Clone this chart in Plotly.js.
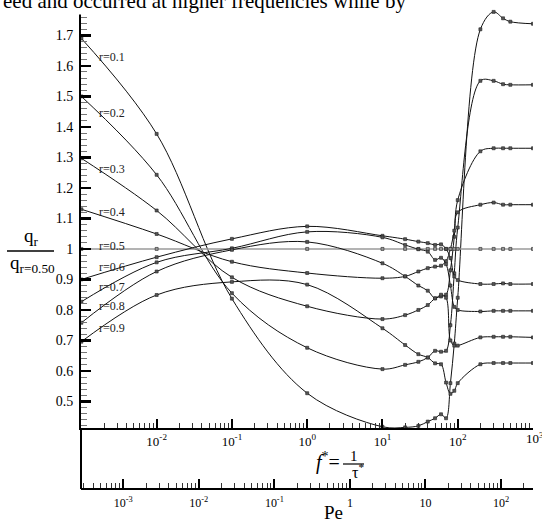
<!DOCTYPE html>
<html>
<head>
<meta charset="utf-8">
<script src="https://cdn.plot.ly/plotly-3.0.1.min.js"></script>
<style>
html,body{margin:0;padding:0;background:#fff;}
#chart{width:542px;height:523px;}
</style>
</head>
<body>
<div id="chart"></div>
<script>
// ---- data ----
const fVals = [0.001, 0.01, 0.1, 1, 10, 20, 30, 40, 50, 60, 70, 80, 90, 100, 200, 300, 400, 500, 1000];
const r01 = [1.69, 1.377, 0.837, 0.527, 0.417, 0.415, 0.42, 0.434, 0.445, 0.458, 0.445, 0.56, 0.69, 0.84, 1.72, 1.777, 1.756, 1.745, 1.738];
const r02 = [1.50, 1.243, 0.855, 0.676, 0.606, 0.62, 0.63, 0.644, 0.666, 0.663, 0.666, 0.75, 0.92, 1.07, 1.551, 1.551, 1.54, 1.538, 1.538];
const r03 = [1.297, 1.126, 0.907, 0.812, 0.77, 0.783, 0.80, 0.816, 0.838, 0.844, 0.85, 0.93, 1.04, 1.16, 1.32, 1.33, 1.33, 1.33, 1.33];
const r04 = [1.13, 1.049, 0.958, 0.921, 0.904, 0.91, 0.926, 0.937, 0.942, 0.945, 0.96, 1.0, 1.06, 1.12, 1.145, 1.152, 1.145, 1.145, 1.145];
const r05 = [1, 1, 1, 1, 1, 1, 1, 1, 1, 1, 1, 1, 1, 1, 1, 1, 1, 1, 1];
const r06 = [0.90, 0.973, 1.033, 1.074, 1.043, 1.032, 1.024, 1.019, 1.013, 1.015, 1.0, 0.97, 0.91, 0.898, 0.885, 0.885, 0.887, 0.885, 0.885];
const r07 = [0.827, 0.956, 1.002, 1.056, 1.038, 1.013, 0.999, 0.991, 0.964, 0.971, 0.95, 0.88, 0.81, 0.80, 0.795, 0.797, 0.797, 0.797, 0.797];
const r08 = [0.758, 0.926, 0.997, 1.023, 0.953, 0.91, 0.88, 0.863, 0.838, 0.85, 0.84, 0.70, 0.683, 0.683, 0.71, 0.712, 0.712, 0.712, 0.71];
const r09 = [0.696, 0.849, 0.892, 0.883, 0.74, 0.685, 0.655, 0.644, 0.625, 0.622, 0.562, 0.525, 0.535, 0.56, 0.622, 0.626, 0.626, 0.626, 0.626];
const seriesNames = ['r=0.1','r=0.2','r=0.3','r=0.4','r=0.5','r=0.6','r=0.7','r=0.8','r=0.9'];
const seriesVals = [r01, r02, r03, r04, r05, r06, r07, r08, r09];

const yTickVals = [0.5, 0.6, 0.7, 0.8, 0.9, 1.0, 1.1, 1.2, 1.3, 1.4, 1.5, 1.6, 1.7];
const yTickText = ['0.5','0.6','0.7','0.8','0.9','1','1.1','1.2','1.3','1.4','1.5','1.6','1.7'];
const fTickVals = [0.01, 0.1, 1, 10, 100];
const fTickText = ['10<sup>-2</sup>','10<sup>-1</sup>','10<sup>0</sup>','10<sup>1</sup>','10<sup>2</sup>'];
const fEdgeLabel = '10<sup>3</sup>';
const peTickVals = [0.001, 0.01, 0.1, 1, 10, 100];
const peTickText = ['10<sup>-3</sup>','10<sup>-2</sup>','10<sup>-1</sup>','1','10','10<sup>2</sup>'];
const topText = 'eed and occurred at higher frequencies while by';

// ---- geometry helpers (layout only) ----
const W = 542, H = 523;
const L = 81, R = 533, T = 0, B = 489;
const px = v => (v - L) / (R - L);
const py = v => 1 - (v - T) / (B - T);
const yDom0 = py(428);

const minorLog = [];
for (let d = -5; d <= 3; d++) for (let m = 2; m <= 9; m++) minorLog.push(m * Math.pow(10, d));

const serif = 'Liberation Serif, Times New Roman, serif';

const traces = seriesVals.map((vals, i) => ({
  x: fVals, y: vals, type: 'scatter', mode: 'lines+markers',
  name: seriesNames[i],
  line: {shape: 'spline', smoothing: 1, color: i === 4 ? '#9a9a9a' : '#111', width: i === 4 ? 1.6 : 1},
  marker: {symbol: 'square', size: 3, color: i === 4 ? '#999' : '#555', line: {color: '#222', width: 0.6}},
  hoverinfo: 'skip'
}));
// carrier for the Pe axis
traces.push({x: [1], y: [null], xaxis: 'x3', yaxis: 'y', mode: 'markers', showlegend: false, hoverinfo: 'skip'});

const labelY = [57, 113, 169, 212, 246, 267, 287, 306, 328];
const annotations = seriesNames.map((n, i) => ({
  text: n, xref: 'paper', yref: 'paper', x: px(112), y: py(labelY[i]),
  xanchor: 'center', yanchor: 'middle', showarrow: false,
  font: {family: serif, size: 12, color: '#222'}
}));

annotations.push(
  {text: topText, xref: 'paper', yref: 'paper', x: px(1), y: py(1), xanchor: 'left', yanchor: 'middle',
   showarrow: false, bgcolor: '#fff', font: {family: serif, size: 21, color: '#000'}},
  {text: fEdgeLabel, xref: 'paper', yref: 'paper', x: px(535), y: py(438), xanchor: 'center', yanchor: 'middle',
   showarrow: false, font: {family: serif, size: 13, color: '#000'}},
  {text: 'q<sub>r</sub>', xref: 'paper', yref: 'paper', x: px(31), y: py(237), xanchor: 'center', yanchor: 'middle',
   showarrow: false, font: {family: serif, size: 19, color: '#000'}},
  {text: 'q<sub>r=0.50</sub>', xref: 'paper', yref: 'paper', x: px(32), y: py(264), xanchor: 'center', yanchor: 'middle',
   showarrow: false, font: {family: serif, size: 19, color: '#000'}},
  {text: '<i>f</i><sup>*</sup>=', xref: 'paper', yref: 'paper', x: px(328), y: py(461), xanchor: 'center', yanchor: 'middle',
   showarrow: false, font: {family: serif, size: 20, color: '#000'}},
  {text: '1', xref: 'paper', yref: 'paper', x: px(354), y: py(456), xanchor: 'center', yanchor: 'middle',
   showarrow: false, font: {family: serif, size: 15, color: '#000'}},
  {text: 'τ<sup>*</sup>', xref: 'paper', yref: 'paper', x: px(358), y: py(471), xanchor: 'center', yanchor: 'middle',
   showarrow: false, font: {family: serif, size: 16, color: '#000'}},
  {text: 'Pe', xref: 'paper', yref: 'paper', x: px(333), y: py(512), xanchor: 'center', yanchor: 'middle',
   showarrow: false, font: {family: serif, size: 19, color: '#000'}}
);

const shapes = [
  {type: 'line', xref: 'paper', yref: 'paper', x0: px(7), x1: px(54), y0: py(251), y1: py(251), line: {color: '#000', width: 1.3}},
  {type: 'line', xref: 'paper', yref: 'paper', x0: px(343), x1: px(364), y0: py(464), y1: py(464), line: {color: '#000', width: 1.2}},
  {type: 'line', xref: 'paper', yref: 'paper', x0: 0, x1: 0, y0: 0, y1: yDom0, line: {color: '#000', width: 2}}
];

const layout = {
  width: W, height: H,
  margin: {l: L, r: W - R, t: T, b: H - B, pad: 0},
  paper_bgcolor: '#fff', plot_bgcolor: '#fff',
  showlegend: false, hovermode: false,
  font: {family: serif, color: '#000'},
  xaxis: {
    type: 'log', range: [-3.005, 3], anchor: 'y', showgrid: false, zeroline: false,
    showline: true, linecolor: '#000', linewidth: 2, automargin: false,
    ticks: 'inside', ticklen: 9, tickwidth: 2, tickcolor: '#000',
    tickmode: 'array', tickvals: fTickVals, ticktext: fTickText,
    tickfont: {family: serif, size: 13, color: '#000'},
    minor: {tickmode: 'array', tickvals: minorLog, ticks: 'inside', ticklen: 5, tickwidth: 1, tickcolor: '#333', showgrid: false}
  },
  xaxis3: {
    type: 'log', range: [-3.56, 2.424], overlaying: 'x', anchor: 'free', position: 0,
    showgrid: false, zeroline: false, showline: true, linecolor: '#000', linewidth: 2, automargin: false,
    ticks: 'inside', ticklen: 9, tickwidth: 2, tickcolor: '#000',
    tickmode: 'array', tickvals: peTickVals, ticktext: peTickText,
    tickfont: {family: serif, size: 12, color: '#000'}, ticklabelstandoff: 3,
    minor: {tickmode: 'array', tickvals: minorLog, ticks: 'inside', ticklen: 5, tickwidth: 1, tickcolor: '#333', showgrid: false}
  },
  yaxis: {
    range: [0.413, 1.816], domain: [yDom0, 1], showgrid: false, zeroline: false,
    showline: true, linecolor: '#000', linewidth: 2, automargin: false,
    ticks: 'inside', ticklen: 10, tickwidth: 2.5, tickcolor: '#000',
    tickmode: 'array', tickvals: yTickVals, ticktext: yTickText,
    tickfont: {family: serif, size: 14, color: '#000'}, ticklabelstandoff: 3,
    minor: {tickmode: 'linear', tick0: 0, dtick: 0.02, ticks: 'inside', ticklen: 6, tickwidth: 1, tickcolor: '#777', showgrid: false}
  },
  annotations: annotations,
  shapes: shapes
};

Plotly.newPlot('chart', traces, layout, {staticPlot: true, displayModeBar: false});
</script>
</body>
</html>
